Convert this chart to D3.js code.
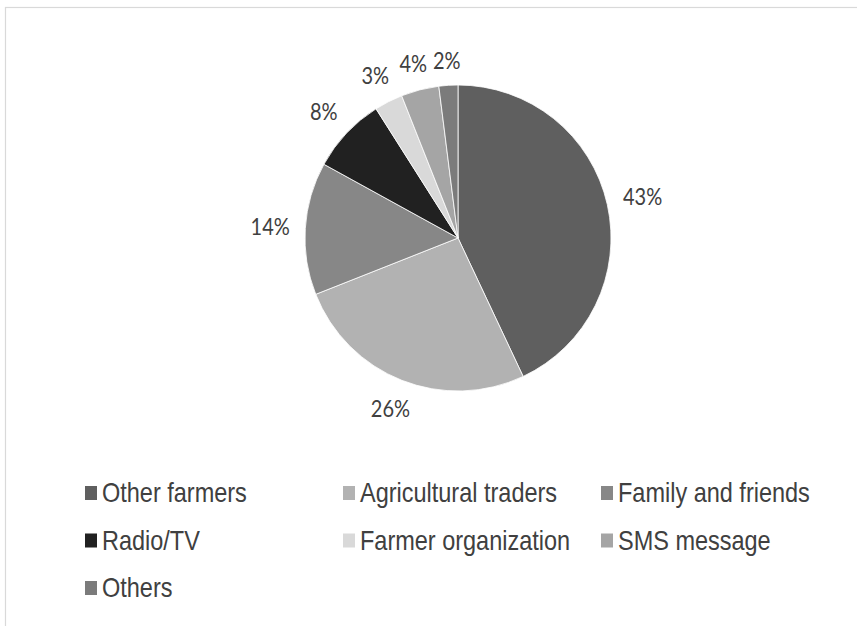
<!DOCTYPE html>
<html>
<head>
<meta charset="utf-8">
<script src="https://cdn.jsdelivr.net/npm/d3@7"></script>
<style>
  html, body { margin: 0; padding: 0; background: #fff; }
  svg { display: block; }
</style>
</head>
<body>
<div id="container"></div>
<script>
const categories = ['Other farmers', 'Agricultural traders', 'Family and friends',
  'Radio/TV', 'Farmer organization', 'SMS message', 'Others'];
const shares = [43, 26, 14, 8, 3, 4, 2];
const sliceColors = ['#5f5f5f', '#b2b2b2', '#878787', '#212121', '#d9d9d9', '#a5a5a5', '#7b7b7b'];

const width = 857;
const height = 626;
const cx = 458;
const cy = 238;
const radius = 153;

const svg = d3.select('#container').append('svg')
  .attr('width', width)
  .attr('height', height);

// chart frame (runs off the right and bottom edges)
svg.append('rect')
  .attr('x', 5.5).attr('y', 7.5)
  .attr('width', width + 20).attr('height', height + 20)
  .attr('fill', 'none')
  .attr('stroke', '#d9d9d9')
  .attr('stroke-width', 1.2);

const data = categories.map((c, i) => ({name: c, value: shares[i], color: sliceColors[i]}));

const pie = d3.pie().sort(null).value(d => d.value);
const arc = d3.arc().innerRadius(0).outerRadius(radius);
const arcs = pie(data);

const g = svg.append('g').attr('transform', `translate(${cx},${cy})`);

g.selectAll('.slice')
  .data(arcs)
  .enter().append('path')
  .attr('class', 'slice')
  .attr('d', arc)
  .attr('fill', d => d.data.color)
  .attr('stroke', '#fff')
  .attr('stroke-width', 0.8);

// percent labels outside the pie, pushed out by half their box
const labelGap = 15;
const labels = g.selectAll('.label')
  .data(arcs)
  .enter().append('text')
  .attr('class', 'label')
  .attr('text-anchor', 'middle')
  .attr('dy', '0.35em')
  .style('font-family', 'Lato, "Open Sans", sans-serif')
  .style('font-size', '20px')
  .style('fill', '#404040')
  .text(d => d.data.value + '%');

labels.each(function(d) {
  const w = this.getComputedTextLength() / 2;
  const h = 9;
  const a = (d.startAngle + d.endAngle) / 2;
  const s = Math.sin(a), c = Math.cos(a);
  const r = radius + labelGap + Math.abs(s) * w + Math.abs(c) * h;
  d3.select(this).attr('transform', `translate(${r * s},${-r * c}) scale(1,1.2)`);
});

// legend, three columns
const col = d3.scaleLinear().domain([0, 1]).range([85, 343]);
const row = d3.scaleLinear().domain([0, 1]).range([502, 549.5]);

const legend = svg.selectAll('.legend')
  .data(data)
  .enter().append('g')
  .attr('class', 'legend')
  .attr('transform', (d, i) => `translate(${col(i % 3)},${row(Math.floor(i / 3))})`);

legend.append('rect')
  .attr('x', 0).attr('y', -16)
  .attr('width', 12).attr('height', 14)
  .attr('fill', d => d.color);

legend.append('text')
  .attr('x', 17)
  .attr('transform', 'scale(1,1.2)')
  .style('font-family', '"Liberation Sans", Arial, sans-serif')
  .style('font-size', '23.5px')
  .style('fill', '#404040')
  .text(d => d.name);
</script>
</body>
</html>
